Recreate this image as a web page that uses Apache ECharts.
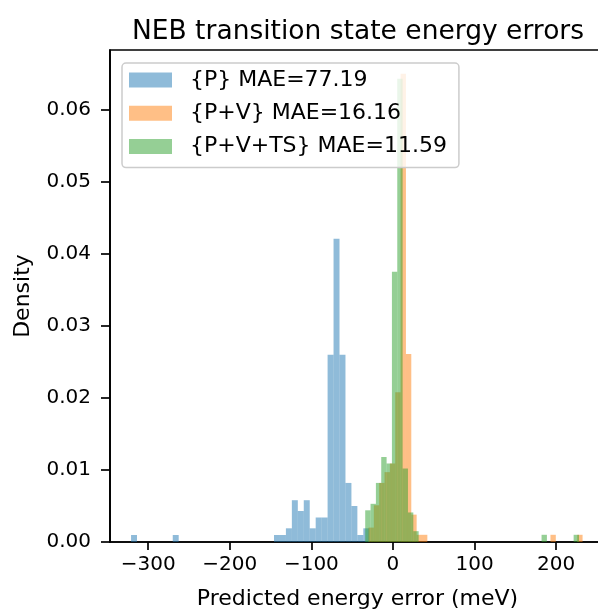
<!DOCTYPE html>
<html>
<head>
<meta charset="utf-8">
<script src="https://cdn.jsdelivr.net/npm/echarts@6/dist/echarts.min.js"></script>
<style>
  html, body { margin: 0; padding: 0; background: #fff; }
  #chart { width: 598px; height: 611px; }
</style>
</head>
<body>
<div id="chart"></div>
<script>
// histogram bins: first edge, bin width, density per bin
const pStart = -321
const pWidth = 7.3
const pDensity = [
  0.00097, 0, 0, 0, 0, 0, 0, 0.00097, 0, 0,
  0, 0, 0, 0, 0, 0, 0, 0, 0, 0,
  0, 0, 0, 0, 0.00097, 0.00097, 0.0019, 0.0058, 0.0043, 0.0058,
  0.0019, 0.0034, 0.0034, 0.026, 0.0421, 0.026, 0.0082, 0.005, 0.00097, 0.0019
]
const pvStart = -30
const pvWidth = 6.56
const pvDensity = [
  0.002, 0.0051, 0.0082, 0.0097, 0.0109, 0.0208, 0.065, 0.0261, 0.0038, 0.001,
  0.001, 0, 0, 0, 0, 0, 0, 0, 0, 0,
  0, 0, 0, 0, 0, 0, 0, 0, 0, 0,
  0, 0, 0, 0, 0.001, 0, 0, 0, 0, 0.001
]
const pvtsStart = -34
const pvtsWidth = 6.55
const pvtsDensity = [
  0.0044, 0.0053, 0.0082, 0.0118, 0.0109, 0.0375, 0.0643, 0.0102, 0.0041, 0.0015,
  0, 0, 0, 0, 0, 0, 0, 0, 0, 0,
  0, 0, 0, 0, 0, 0, 0, 0, 0, 0,
  0, 0, 0, 0.001, 0, 0, 0, 0, 0, 0.001
]
const seriesNames = ['{P} MAE=77.19', '{P+V} MAE=16.16', '{P+V+TS} MAE=11.59']
const xTicks = [-300, -200, -100, 0, 100, 200]
const yTicks = [0, 0.01, 0.02, 0.03, 0.04, 0.05, 0.06]

const colors = ['rgba(31,119,180,0.5)', 'rgba(255,127,14,0.5)', 'rgba(44,160,44,0.5)']
const font = 'DejaVu Sans'

const toBins = (start, width, dens) =>
  dens.map((d, i) => [start + i * width, start + (i + 1) * width, d]).filter(b => b[2] > 0)

const renderBar = (color) => (params, api) => {
  const a = api.coord([api.value(0), 0])
  const b = api.coord([api.value(1), api.value(2)])
  return {
    type: 'rect',
    shape: { x: a[0], y: b[1], width: b[0] - a[0], height: a[1] - b[1] },
    style: { fill: color }
  }
}

const histSeries = (name, data, color) => ({
  name,
  type: 'custom',
  renderItem: renderBar(color),
  itemStyle: { color },
  encode: { x: [0, 1], y: 2 },
  data,
  animation: false
})

const minus = (v) => (v < 0 ? '\u2212' + Math.abs(v) : String(v))

const chart = echarts.init(document.getElementById('chart'), null, { renderer: 'canvas' })
chart.setOption({
  animation: false,
  backgroundColor: '#fff',
  textStyle: { fontFamily: font, color: '#000' },
  title: {
    text: 'NEB transition state energy errors',
    left: 353,
    textAlign: 'center',
    top: 14,
    textStyle: { fontFamily: font, fontSize: 26.5, fontWeight: 'normal', color: '#000' }
  },
  legend: {
    orient: 'vertical',
    left: 122,
    top: 63,
    padding: [6, 12, 10, 7],
    itemWidth: 43,
    itemHeight: 15,
    itemGap: 11.3,
    icon: 'rect',
    backgroundColor: 'rgba(255,255,255,0.8)',
    borderColor: '#cccccc',
    borderWidth: 1.5,
    borderRadius: 4,
    textStyle: { fontFamily: font, fontSize: 22, color: '#000', lineHeight: 22, padding: [0, 0, 0, 13] },
    data: seriesNames
  },
  grid: {
    left: 110,
    top: 50,
    bottom: 69,
    right: -7,
    containLabel: false,
    outerBoundsMode: 'none',
    show: true,
    borderColor: '#000',
    borderWidth: 1.7
  },
  xAxis: {
    type: 'value',
    min: -346.8,
    max: 259.9,
    name: 'Predicted energy error (meV)',
    nameLocation: 'middle',
    nameGap: 46,
    nameTextStyle: { fontFamily: font, fontSize: 22, color: '#000' },
    axisLine: { show: true, onZero: false, lineStyle: { color: '#000', width: 1.7 } },
    axisTick: { show: true, length: 8, customValues: xTicks, lineStyle: { color: '#000', width: 1.7 } },
    axisLabel: { customValues: xTicks, margin: 13, fontFamily: font, fontSize: 20, color: '#000', formatter: minus },
    splitLine: { show: false }
  },
  yAxis: {
    type: 'value',
    min: 0,
    max: 0.0683,
    name: 'Density',
    nameLocation: 'middle',
    nameGap: 76,
    nameTextStyle: { fontFamily: font, fontSize: 22, color: '#000' },
    axisLine: { show: true, onZero: false, lineStyle: { color: '#000', width: 1.7 } },
    axisTick: { show: true, length: 9, customValues: yTicks, lineStyle: { color: '#000', width: 1.7 } },
    axisLabel: { customValues: yTicks, margin: 19, fontFamily: font, fontSize: 20, color: '#000', formatter: (v) => v.toFixed(2) },
    splitLine: { show: false }
  },
  series: [
    histSeries(seriesNames[0], toBins(pStart, pWidth, pDensity), colors[0]),
    histSeries(seriesNames[1], toBins(pvStart, pvWidth, pvDensity), colors[1]),
    histSeries(seriesNames[2], toBins(pvtsStart, pvtsWidth, pvtsDensity), colors[2])
  ]
})
</script>
</body>
</html>
